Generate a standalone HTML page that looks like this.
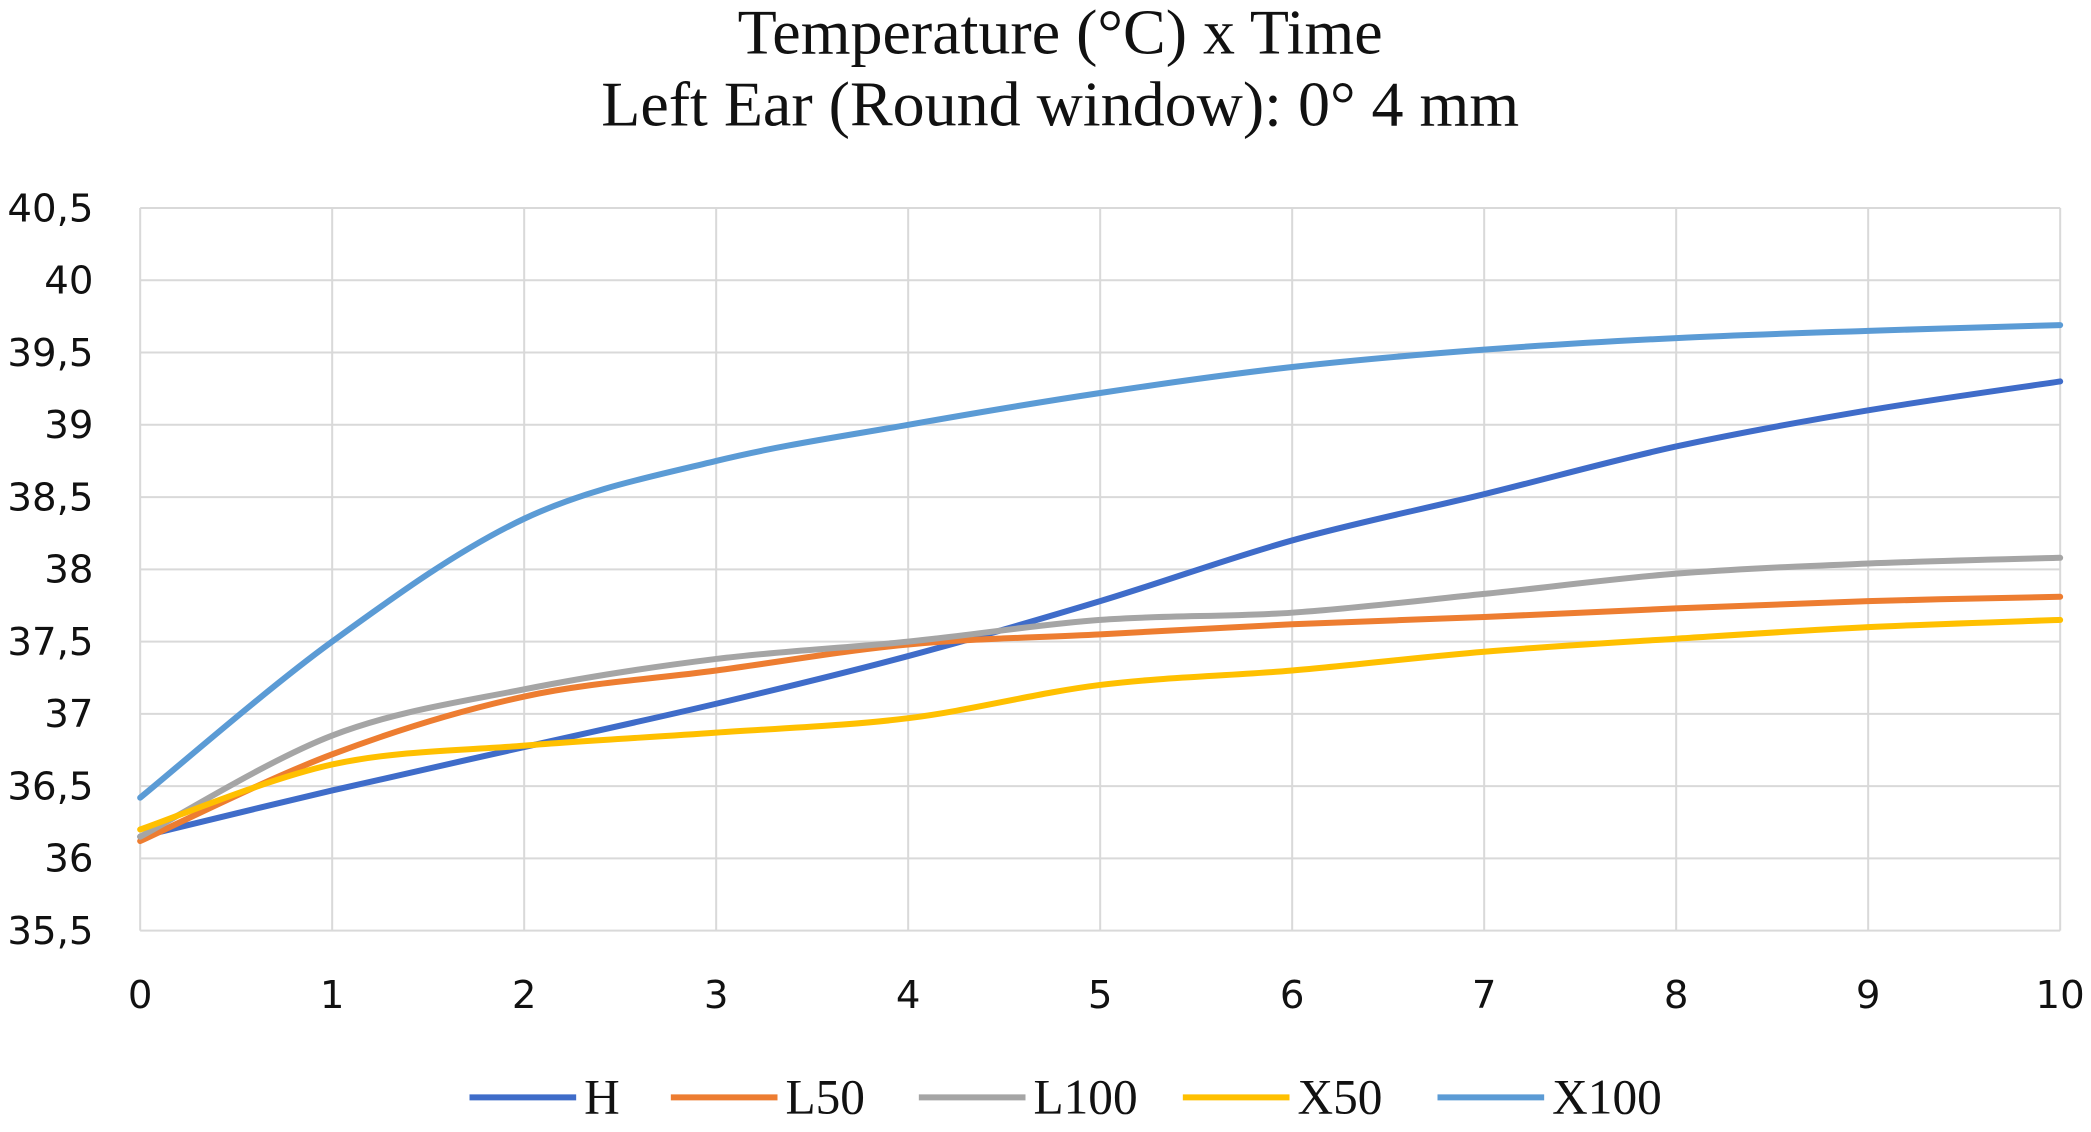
<!DOCTYPE html>
<html><head><meta charset="utf-8"><style>
html,body{margin:0;padding:0;background:#fff;}
svg{display:block;}
</style></head><body>
<svg id="chart" width="2091" height="1132" viewBox="0 0 1568 849" xmlns="http://www.w3.org/2000/svg">
<rect width="1568" height="849" fill="#fff"/>
<text x="795" y="40" text-anchor="middle" font-family="Liberation Serif, serif" font-size="48" fill="#111">Temperature (°C) x Time</text>
<text x="795" y="94" text-anchor="middle" font-family="Liberation Serif, serif" font-size="48" fill="#111">Left Ear (Round window): 0° 4 mm</text>
<g id="grid"></g>
<g id="axes"></g>
<g id="series"></g>
<g id="legend"></g>
</svg>
<script>
const xValues = [0,1,2,3,4,5,6,7,8,9,10];
const yTicks = [35.5,36,36.5,37,37.5,38,38.5,39,39.5,40,40.5];
const yTickLabels = ["35,5","36","36,5","37","37,5","38","38,5","39","39,5","40","40,5"];
const seriesNames = ["H","L50","L100","X50","X100"];
const seriesColors = ["#3f6cc9","#ed7d31","#a5a5a5","#ffc000","#5b9bd5"];
const H    = [36.15,36.47,36.77,37.07,37.4,37.78,38.2,38.52,38.85,39.1,39.3];
const L50  = [36.12,36.72,37.12,37.3,37.48,37.55,37.62,37.67,37.73,37.78,37.81];
const L100 = [36.15,36.85,37.17,37.38,37.5,37.65,37.7,37.83,37.97,38.04,38.08];
const X50  = [36.2,36.65,36.78,36.87,36.97,37.2,37.3,37.43,37.52,37.6,37.65];
const X100 = [36.42,37.5,38.35,38.75,39.0,39.22,39.4,39.52,39.6,39.65,39.69];
const seriesData = [H,L50,L100,X50,X100];

const NS="http://www.w3.org/2000/svg";
const L=105,R=1545,T=156,B=698,yMin=35.5,yMax=40.5,xMin=0,xMax=10;
const sx=v=>L+(v-xMin)/(xMax-xMin)*(R-L);
const sy=v=>B-(v-yMin)/(yMax-yMin)*(B-T);
function mk(tag,attrs,parent){const e=document.createElementNS(NS,tag);for(const k in attrs)e.setAttribute(k,attrs[k]);parent.appendChild(e);return e;}
const grid=document.getElementById('grid'),axes=document.getElementById('axes'),series=document.getElementById('series'),legend=document.getElementById('legend');
yTicks.forEach((v,i)=>{
  const ln=mk('line',{x1:L,x2:R,y1:sy(v),y2:sy(v),stroke:'#d9d9d9','stroke-width':1.5},grid);
  
  
  const t=mk('text',{x:70,y:sy(v)+10,'text-anchor':'end','font-family':'DejaVu Sans, sans-serif','font-size':29,fill:'#111'},axes);
  t.textContent=yTickLabels[i];
  
  
});
xValues.forEach(v=>{
  const ln=mk('line',{x1:sx(v),x2:sx(v),y1:T,y2:B,stroke:'#d9d9d9','stroke-width':1.5},grid);
  
  
  const t=mk('text',{x:sx(v),y:756,'text-anchor':'middle','font-family':'DejaVu Sans, sans-serif','font-size':29,fill:'#111'},axes);
  t.textContent=String(v);
  
  
});
function smooth(pts){
  let d=`M${pts[0][0]},${pts[0][1]}`;
  for(let i=0;i<pts.length-1;i++){
    const p0=pts[i-1]||pts[i],p1=pts[i],p2=pts[i+1],p3=pts[i+2]||p2;
    const c1=[p1[0]+(p2[0]-p0[0])/6,p1[1]+(p2[1]-p0[1])/6];
    const c2=[p2[0]-(p3[0]-p1[0])/6,p2[1]-(p3[1]-p1[1])/6];
    d+=` C${c1[0]},${c1[1]} ${c2[0]},${c2[1]} ${p2[0]},${p2[1]}`;
  }
  return d;
}
seriesData.forEach((vals,si)=>{
  const pts=vals.map((v,i)=>[sx(xValues[i]),sy(v)]);
  const p=mk('path',{d:smooth(pts),fill:'none',stroke:seriesColors[si],'stroke-width':4.5,'stroke-linecap':'round'},series);
  
  
});
const legX=[352,503,689,887,1078];
seriesNames.forEach((n,i)=>{
  const ln=mk('line',{x1:legX[i],x2:legX[i]+80,y1:823,y2:823,stroke:seriesColors[i],'stroke-width':4.5},legend);
  
  
  const t=mk('text',{x:legX[i]+86,y:835,'font-family':'Liberation Serif, serif','font-size':37,fill:'#111'},legend);
  t.textContent=n;
  
  
});
</script>
</body></html>
